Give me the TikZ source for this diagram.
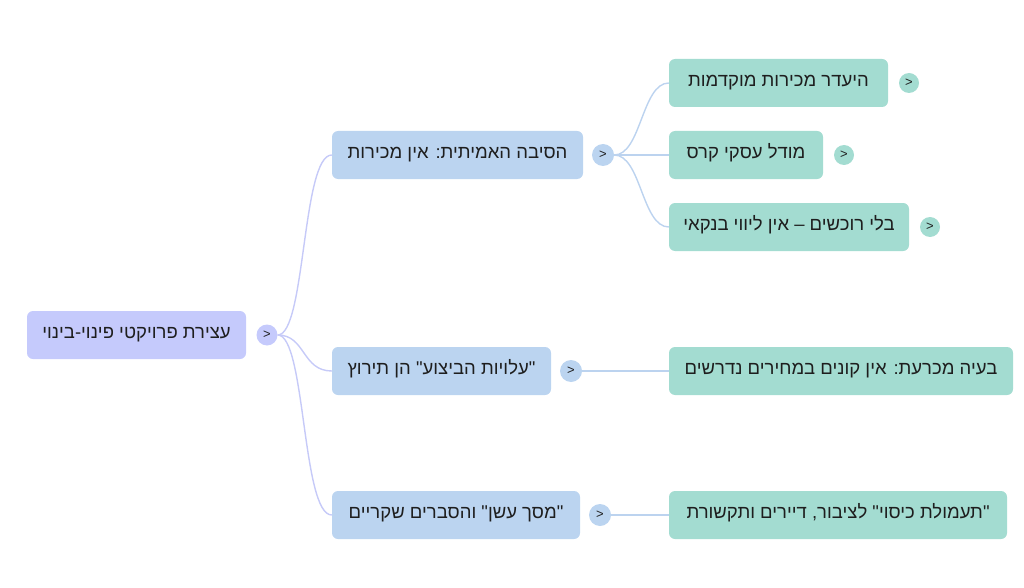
\documentclass[tikz,border=0pt]{standalone}
\usepackage{fontspec}
\setmainfont{Liberation Sans}
\newfontfamily\hebfont[Script=Hebrew]{Liberation Sans}
\TeXXeTstate=1
\usetikzlibrary{backgrounds}
\definecolor{rootfill}{HTML}{C5CAFC}
\definecolor{midfill}{HTML}{BBD4F0}
\definecolor{leaffill}{HTML}{A3DCD1}
\definecolor{rootline}{HTML}{C6CAF8}
\definecolor{midline}{HTML}{BCD3EF}
\definecolor{inktext}{HTML}{1E1E1E}
\newcommand{\heb}[1]{{\hebfont\beginR #1\endR}}
\tikzset{%
    box/.style={rectangle, rounded corners=6pt, minimum height=48pt, inner sep=0pt, text height=0.72em, text depth=0pt, text=inktext, font=\fontsize{18.5}{20}\selectfont},
    rootbox/.style={box, fill=rootfill},
    midbox/.style={box, fill=midfill},
    leafbox/.style={box, fill=leaffill},
    knob/.style={circle, inner sep=0pt, text=inktext, font=\fontsize{13}{14}\selectfont},
    rootknob/.style={knob, fill=rootfill, minimum size=21pt},
    midknob/.style={knob, fill=midfill, minimum size=22pt},
    leafknob/.style={knob, fill=leaffill, minimum size=20pt},
    rootlink/.style={line width=1.4pt, color=rootline},
    midlink/.style={line width=1.4pt, color=midline},
}

\begin{document}
\begin{tikzpicture}[x=1pt, y=-1pt]

	\useasboundingbox (0,0) rectangle (1024,588);

	% root
	\node[rootbox, minimum width=219pt] (root) at (136.5,335) {\heb{עצירת פרויקטי פינוי-בינוי}};
	\node[rootknob] (rootk) at (267,335) {>};

	% first level
	\node[midbox, minimum width=251pt] (sales) at (457.5,155) {\heb{הסיבה האמיתית: אין מכירות}};
	\node[midknob] (salesk) at (603,155) {>};
	\node[midbox, minimum width=219pt] (costs) at (441.5,371) {\heb{"עלויות הביצוע" הן תירוץ}};
	\node[midknob] (costsk) at (571,371) {>};
	\node[midbox, minimum width=248pt] (smoke) at (456,515) {\heb{"מסך עשן" והסברים שקריים}};
	\node[midknob] (smokek) at (600,515) {>};

	% second level
	\node[leafbox, minimum width=219pt] (presale) at (778.5,83) {\heb{היעדר מכירות מוקדמות}};
	\node[leafknob] (presalek) at (909,83) {>};
	\node[leafbox, minimum width=154pt] (model) at (746,155) {\heb{מודל עסקי קרס}};
	\node[leafknob] (modelk) at (844,155) {>};
	\node[leafbox, minimum width=240pt] (bank) at (789,227) {\heb{בלי רוכשים – אין ליווי בנקאי}};
	\node[leafknob] (bankk) at (930,227) {>};
	\node[leafbox, minimum width=344pt] (buyers) at (841,371) {\heb{בעיה מכרעת: אין קונים במחירים נדרשים}};
	\node[leafbox, minimum width=338pt] (cover) at (838,515) {\heb{"תעמולת כיסוי" לציבור, דיירים ותקשורת}};

	% links
	\begin{scope}[on background layer]
		\draw[rootlink] (rootk.east) .. controls +(28,0) and +(-30,0) .. (sales.west);
		\draw[rootlink] (rootk.east) .. controls +(28,0) and +(-30,0) .. (costs.west);
		\draw[rootlink] (rootk.east) .. controls +(28,0) and +(-30,0) .. (smoke.west);

		\draw[midlink] (salesk.east) .. controls +(27,0) and +(-27,0) .. (presale.west);
		\draw[midlink] (salesk.east) -- (model.west);
		\draw[midlink] (salesk.east) .. controls +(27,0) and +(-27,0) .. (bank.west);
		\draw[midlink] (costsk.east) -- (buyers.west);
		\draw[midlink] (smokek.east) -- (cover.west);
	\end{scope}

\end{tikzpicture}
\end{document}
